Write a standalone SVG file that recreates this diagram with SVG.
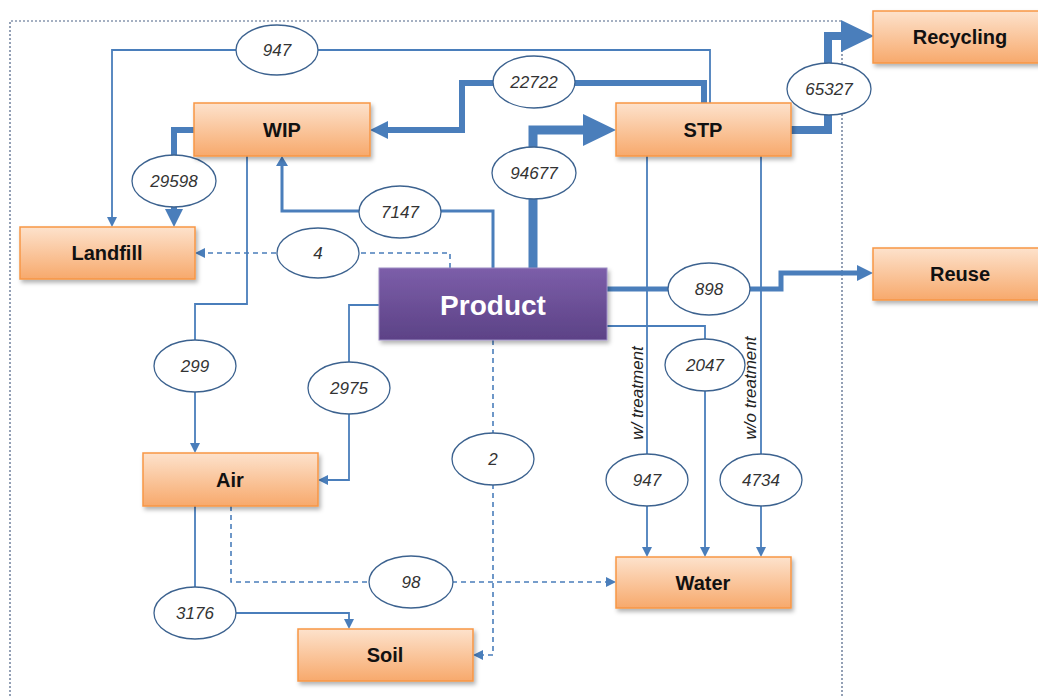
<svg xmlns="http://www.w3.org/2000/svg" width="1038" height="698" viewBox="0 0 1038 698">
<defs>
  <linearGradient id="gOr" x1="0" y1="0" x2="0" y2="1">
    <stop offset="0" stop-color="#fde2cc"/>
    <stop offset="1" stop-color="#f7a96c"/>
  </linearGradient>
  <linearGradient id="gPu" x1="0" y1="0" x2="0" y2="1">
    <stop offset="0" stop-color="#7c5ea9"/>
    <stop offset="1" stop-color="#5c4286"/>
  </linearGradient>
  <filter id="sh" x="-10%" y="-10%" width="130%" height="140%">
    <feDropShadow dx="2" dy="3" stdDeviation="2" flood-color="#000" flood-opacity="0.3"/>
  </filter>
  <marker id="aS" markerUnits="userSpaceOnUse" markerWidth="10" markerHeight="10" refX="0" refY="5" orient="auto" overflow="visible">
    <path d="M0,0 L10,5 L0,10 z" fill="#4a7ebb"/>
  </marker>
  <marker id="aS2" markerUnits="userSpaceOnUse" markerWidth="10" markerHeight="12" refX="0" refY="6" orient="auto" overflow="visible">
    <path d="M0,0 L10,6 L0,12 z" fill="#4a7ebb"/>
  </marker>
  <marker id="aM" markerUnits="userSpaceOnUse" markerWidth="18" markerHeight="18" refX="0" refY="9" orient="auto" overflow="visible">
    <path d="M0,0 L18,9 L0,18 z" fill="#4a7ebb"/>
  </marker>
  <marker id="aR" markerUnits="userSpaceOnUse" markerWidth="16" markerHeight="16" refX="0" refY="8" orient="auto" overflow="visible">
    <path d="M0,0 L16,8 L0,16 z" fill="#4a7ebb"/>
  </marker>
  <marker id="aL" markerUnits="userSpaceOnUse" markerWidth="33" markerHeight="32" refX="0" refY="16" orient="auto" overflow="visible">
    <path d="M0,0 L33,16 L0,32 z" fill="#4a7ebb"/>
  </marker>
</defs>
<style>
  .box{fill:url(#gOr);stroke:#f79646;stroke-width:1.5;filter:url(#sh)}
  .prod{fill:url(#gPu);stroke:#9c8cc4;stroke-width:1;filter:url(#sh)}
  .bt{font-family:"Liberation Sans",Arial,sans-serif;font-weight:bold;font-size:20px;fill:#111;text-anchor:middle;dominant-baseline:central}
  .pt{font-family:"Liberation Sans",Arial,sans-serif;font-weight:bold;font-size:28px;fill:#fff;text-anchor:middle;dominant-baseline:central}
  .c{fill:none;stroke:#4a7ebb;stroke-linejoin:miter}
  .thin{stroke-width:1.8}
  .dash{stroke-width:1.6;stroke-dasharray:5,4}
  .el{fill:#fff;stroke:#3c628f;stroke-width:1.3}
  .lt{font-family:"Liberation Sans",Arial,sans-serif;font-style:italic;font-size:17px;fill:#333;text-anchor:middle;dominant-baseline:central}
  .rt{font-family:"Liberation Sans",Arial,sans-serif;font-style:italic;font-size:17px;fill:#222;text-anchor:middle}
</style>
<rect width="1038" height="698" fill="#fff"/>
<path d="M10,700 V21 H842 V700" fill="none" stroke="#4d6285" stroke-width="1.2" stroke-dasharray="2,2"/>

<g id="connectors">
  <path class="c thin" d="M710,103 V50 H112 V217" marker-end="url(#aS)"/>
  <path class="c" stroke-width="6" d="M704,103 V83 H462 V130 H388" marker-end="url(#aM)"/>
  <path class="c" stroke-width="9" d="M533,268 V130 H583" marker-end="url(#aL)"/>
  <path class="c" stroke-width="8" d="M791,130 H828 V36 H841" marker-end="url(#aL)"/>
  <path class="c" stroke-width="6" d="M194,130 H174 V209" marker-end="url(#aM)"/>
  <path class="c" stroke-width="3" d="M493,268 V211 H282 V166" marker-end="url(#aS2)"/>
  <path class="c dash" d="M450,268 V253 H205" marker-end="url(#aS)"/>
  <path class="c" stroke-width="5" d="M607,289 H781 V273 H857" marker-end="url(#aR)"/>
  <path class="c thin" d="M247,156 V304 H195 V443" marker-end="url(#aS)"/>
  <path class="c thin" d="M379,305 H349 V480 H328" marker-end="url(#aS)"/>
  <path class="c dash" d="M493,340 V655 H483" marker-end="url(#aS)"/>
  <path class="c thin" d="M647,156 V547" marker-end="url(#aS)"/>
  <path class="c thin" d="M607,326 H705 V547" marker-end="url(#aS)"/>
  <path class="c thin" d="M761,156 V547" marker-end="url(#aS)"/>
  <path class="c thin" d="M195,506 V613 H349 V619" marker-end="url(#aS)"/>
  <path class="c dash" d="M231,506 V582 H606" marker-end="url(#aS)"/>
</g>

<g id="labels">
  <g id="l947a"><ellipse class="el" cx="277" cy="50" rx="41" ry="25"/><text class="lt" x="277" y="50">947</text></g>
  <g id="l22722"><ellipse class="el" cx="534" cy="82" rx="41" ry="26"/><text class="lt" x="534" y="82">22722</text></g>
  <g id="l65327"><ellipse class="el" cx="829" cy="89" rx="42" ry="26"/><text class="lt" x="829" y="89">65327</text></g>
  <g id="l29598"><ellipse class="el" cx="174" cy="181" rx="42" ry="26"/><text class="lt" x="174" y="181">29598</text></g>
  <g id="l94677"><ellipse class="el" cx="534" cy="173" rx="42" ry="26"/><text class="lt" x="534" y="173">94677</text></g>
  <g id="l7147"><ellipse class="el" cx="400" cy="212" rx="41" ry="26"/><text class="lt" x="400" y="212">7147</text></g>
  <g id="l4"><ellipse class="el" cx="318" cy="253" rx="41" ry="25"/><text class="lt" x="318" y="253">4</text></g>
  <g id="l898"><ellipse class="el" cx="709" cy="289" rx="41" ry="26"/><text class="lt" x="709" y="289">898</text></g>
  <g id="l299"><ellipse class="el" cx="195" cy="366" rx="41" ry="26"/><text class="lt" x="195" y="366">299</text></g>
  <g id="l2047"><ellipse class="el" cx="705" cy="365" rx="40" ry="26"/><text class="lt" x="705" y="365">2047</text></g>
  <g id="l2975"><ellipse class="el" cx="349" cy="388" rx="41" ry="26"/><text class="lt" x="349" y="388">2975</text></g>
  <g id="l2"><ellipse class="el" cx="493" cy="459" rx="41" ry="26"/><text class="lt" x="493" y="459">2</text></g>
  <g id="l947b"><ellipse class="el" cx="647" cy="480" rx="41" ry="26"/><text class="lt" x="647" y="480">947</text></g>
  <g id="l4734"><ellipse class="el" cx="761" cy="480" rx="41" ry="26"/><text class="lt" x="761" y="480">4734</text></g>
  <g id="l98"><ellipse class="el" cx="411" cy="582" rx="42" ry="26"/><text class="lt" x="411" y="582">98</text></g>
  <g id="l3176"><ellipse class="el" cx="195" cy="613" rx="41" ry="26"/><text class="lt" x="195" y="613">3176</text></g>
  <text class="rt" transform="translate(643,393) rotate(-90)">w/ treatment</text>
  <text class="rt" transform="translate(756,388) rotate(-90)">w/o treatment</text>
</g>

<g id="recycling"><rect class="box" x="873" y="11" width="174" height="52"/><text class="bt" x="960" y="37">Recycling</text></g>
<g id="reuse"><rect class="box" x="873" y="248" width="174" height="52"/><text class="bt" x="960" y="274">Reuse</text></g>
<g id="wip"><rect class="box" x="194" y="103" width="176" height="53"/><text class="bt" x="282" y="130">WIP</text></g>
<g id="stp"><rect class="box" x="616" y="103" width="175" height="53"/><text class="bt" x="703" y="130">STP</text></g>
<g id="landfill"><rect class="box" x="20" y="227" width="175" height="52"/><text class="bt" x="107" y="253">Landfill</text></g>
<g id="air"><rect class="box" x="143" y="453" width="175" height="53"/><text class="bt" x="230" y="480">Air</text></g>
<g id="water"><rect class="box" x="616" y="557" width="175" height="51"/><text class="bt" x="703" y="583">Water</text></g>
<g id="soil"><rect class="box" x="298" y="629" width="175" height="52"/><text class="bt" x="385" y="655">Soil</text></g>
<g id="product"><rect class="prod" x="379" y="268" width="228" height="72"/><text class="pt" x="493" y="305">Product</text></g>
</svg>
